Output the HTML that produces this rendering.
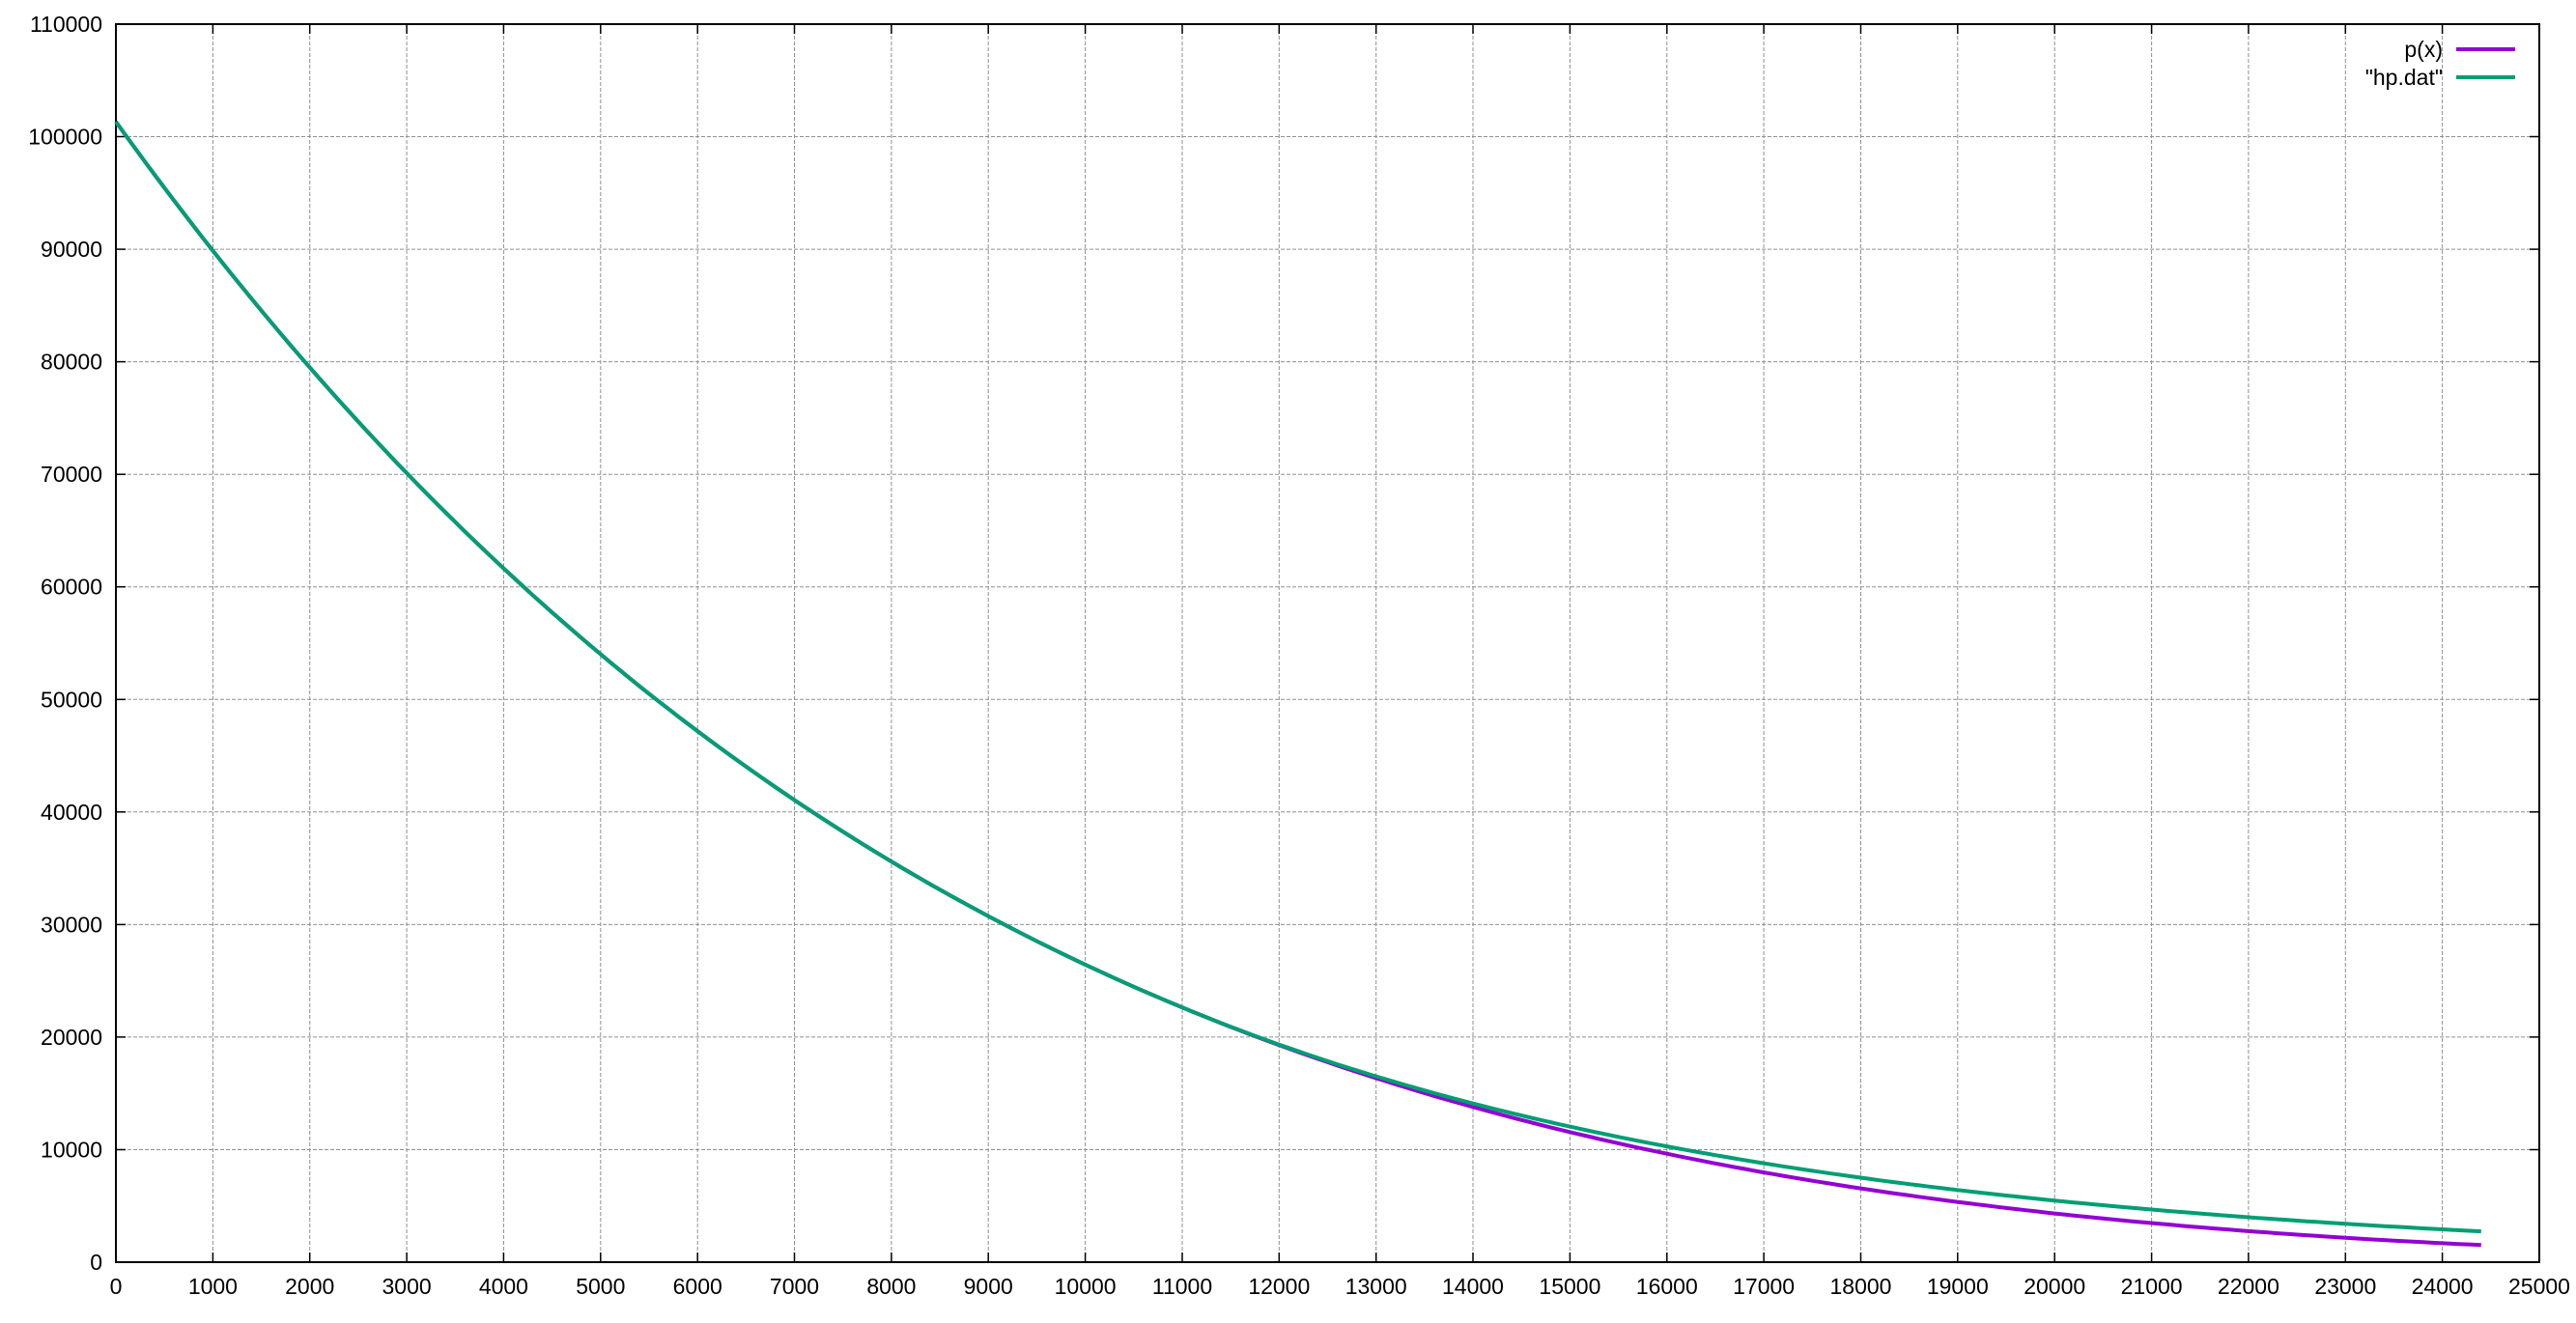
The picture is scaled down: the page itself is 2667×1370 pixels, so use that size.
<!DOCTYPE html>
<html><head><meta charset="utf-8"><style>
body{margin:0;background:#fff}
svg text{font-family:"Liberation Sans",sans-serif;font-size:23px;fill:#000}
</style></head><body>
<svg id="s" width="2667" height="1365" xmlns="http://www.w3.org/2000/svg"></svg>
<script>
const L=120,R=2629,T=25,B=1307;
const X=v=>L+(R-L)*v/25000, Y=v=>B-(B-T)*v/110000;
let h='';
for(let i=0;i<=25;i++){const x=X(i*1000).toFixed(1);
 if(i>0&&i<25)h+=`<line x1="${x}" y1="${T}" x2="${x}" y2="${B}" stroke="#909090" stroke-width="1" stroke-dasharray="4,2"/>`;
 h+=`<line x1="${x}" y1="${B}" x2="${x}" y2="${B-10}" stroke="#000" stroke-width="1.5"/><line x1="${x}" y1="${T}" x2="${x}" y2="${T+10}" stroke="#000" stroke-width="1.5"/>`;
 h+=`<text x="${x}" y="${B+33}" text-anchor="middle">${i*1000}</text>`;}
for(let j=0;j<=11;j++){const y=Y(j*10000).toFixed(1);
 if(j>0&&j<11)h+=`<line x1="${L}" y1="${y}" x2="${R}" y2="${y}" stroke="#909090" stroke-width="1" stroke-dasharray="4,2"/>`;
 h+=`<line x1="${L}" y1="${y}" x2="${L+10}" y2="${y}" stroke="#000" stroke-width="1.5"/><line x1="${R}" y1="${y}" x2="${R-10}" y2="${y}" stroke="#000" stroke-width="1.5"/>`;
 h+=`<text x="${L-14}" y="${(+y+8).toFixed(1)}" text-anchor="end">${j*10000}</text>`;}
h+=`<rect x="${L}" y="${T}" width="${R-L}" height="${B-T}" fill="none" stroke="#000" stroke-width="2"/>`;
const p=x=>101325*Math.pow(1-2.25577e-5*x,5.25588);
const g=x=>x<=11000?p(x):p(11000)*Math.exp(-(x-11000)/6341.6);
let a='',b='';
for(let x=0;x<=24400;x+=100){a+=(x?'L':'M')+X(x).toFixed(1)+','+Y(p(x)).toFixed(1);b+=(x?'L':'M')+X(x).toFixed(1)+','+Y(g(x)).toFixed(1);}
h+=`<path d="${a}" fill="none" stroke="#9400d3" stroke-width="4"/>`;
h+=`<path d="${b}" fill="none" stroke="#009e73" stroke-width="4"/>`;
h+=`<text x="2529" y="59" text-anchor="end">p(x)</text><line x1="2543" y1="51" x2="2604" y2="51" stroke="#9400d3" stroke-width="4"/>`;
h+=`<text x="2529" y="88" text-anchor="end">"hp.dat"</text><line x1="2543" y1="80" x2="2604" y2="80" stroke="#009e73" stroke-width="4"/>`;
document.getElementById('s').innerHTML=h;
</script>
</body></html>
